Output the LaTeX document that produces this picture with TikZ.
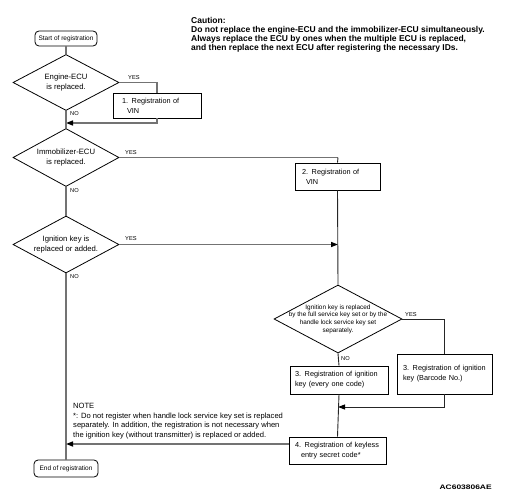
\documentclass[tikz,border=0pt]{standalone}
\usepackage{fontspec}
\setmainfont{Liberation Sans}
\usetikzlibrary{shapes.geometric,arrows.meta}
\begin{document}
\begin{tikzpicture}[x=1pt,y=-1pt,
  term/.style={draw=black,line width=0.8pt,rounded corners=4pt,inner sep=0pt,font=\fontsize{6.5}{7.5}\selectfont},
  proc/.style={draw=black,line width=0.8pt,inner ysep=0pt,align=left,font=\fontsize{7.3}{9.8}\selectfont,
    execute at begin node={\hyphenpenalty=10000\exhyphenpenalty=10000}},
  dec/.style={draw=black,line width=0.8pt,diamond,inner sep=0pt,shape aspect=1.9},
  dtext/.style={align=center,font=\fontsize{7.7}{9.5}\selectfont,inner sep=0pt},
  conn/.style={draw=black!55,line width=1.5pt},
  thinconn/.style={draw=black!85,line width=0.9pt},
  tip/.style={-{Triangle[length=7pt,width=5pt,color=black]}},
  lab/.style={font=\fontsize{5.7}{6.5}\selectfont,inner sep=0pt},
  note/.style={font=\fontsize{7.6}{9.7}\selectfont,align=left,inner sep=0pt,anchor=north west},
  caut/.style={font=\bfseries\fontsize{8.5}{8.9}\selectfont,align=left,inner sep=0pt,anchor=north west}
]
\useasboundingbox (0,0) rectangle (505,500);

% caution
\node[caut] (caution) at (191,17.5) {Caution:\\Do not replace the engine-ECU and the immobilizer-ECU simultaneously.\\Always replace the ECU by ones when the multiple ECU is replaced,\\and then replace the next ECU after registering the necessary IDs.};

% terminals
\node[term,minimum width=62pt,minimum height=15pt] (start) at (66,38.5) {Start of registration};
\node[term,minimum width=64pt,minimum height=17pt] (end) at (66,468.5) {End of registration};

% decisions
\node[dec,minimum width=106pt,minimum height=56pt,
  label={[dtext]center:Engine-ECU\\is replaced.}] (d1) at (66,82.5) {};
\node[dec,minimum width=106pt,minimum height=58pt,
  label={[dtext]center:Immobilizer-ECU\\is replaced.}] (d2) at (66,157.5) {};
\node[dec,minimum width=106pt,minimum height=57pt,
  label={[dtext]center:Ignition key is\\replaced or added.}] (d3) at (66,244.5) {};
\node[dec,minimum width=128pt,minimum height=68pt,
  label={[dtext,font=\fontsize{6.4}{7.6}\selectfont]center:Ignition key is replaced\\by the full service key set or by the\\handle lock service key set\\separately.}] (d4) at (338,319) {};

% processes
\node[proc,minimum height=25pt,text width=70pt,inner xsep=9pt] (b1) at (157,105.5) {1. Registration of\\\hspace*{5pt}VIN};
\node[proc,minimum height=27pt,text width=71pt,inner xsep=7pt] (b2) at (337.5,176.5) {2. Registration of\\\hspace*{4pt}VIN};
\node[proc,minimum height=28pt,text width=88pt,inner xsep=5pt] (b3a) at (339,380) {3. Registration of ignition\\key (every one code)};
\node[proc,minimum height=40pt,text width=83pt,inner xsep=6pt] (b3b) at (444.5,374) {3. Registration of ignition\\key (Barcode No.)};
\node[proc,minimum height=27pt,text width=85pt,inner xsep=6pt] (b4) at (337.5,450.5) {4. Registration of keyless\\\hspace*{6pt}entry secret code*};

% junction coordinates
\coordinate (j1) at (66,123);
\coordinate (j2) at (338,244.5);
\coordinate (j3) at (338,407);
\coordinate (j4) at (66,444);
\coordinate (c2) at (338,157.5);

% connectors
\draw[conn] (start.south) -- (d1.north);
\draw[conn] (d1.east) -| (b1.north);
\draw[conn,tip] (b1.south) |- (j1);
\draw[conn] (d1.south) -- (d2.north);
\draw[conn] (d2.east) -- (c2);
\draw[thinconn] (c2) -- (b2.north);
\draw[conn] (d2.south) -- (d3.north);
\draw[conn,tip] (d3.east) -- (j2);
\draw[thinconn] (b2.south) -- (d4.north);
\draw[conn] (d3.south) -- (end.north);
\draw[thinconn] (d4.east) -| (b3b.north);
\draw[thinconn] (d4.south) -- (b3a.north);
\draw[thinconn,tip] (b3b.south) |- (j3);
\draw[thinconn] (b3a.south) -- (b4.north);
\draw[conn,tip] (b4.west |- j4) -- (j4);

% labels
\node[lab,anchor=south west] (y1) at (128,80) {YES};
\node[lab,anchor=west] (n1) at (70,114) {NO};
\node[lab,anchor=south west] (y2) at (125,155) {YES};
\node[lab,anchor=west] (n2) at (70,191) {NO};
\node[lab,anchor=south west] (y3) at (125,241) {YES};
\node[lab,anchor=west] (n3) at (70,277) {NO};
\node[lab,anchor=south west] (y4) at (405,317) {YES};
\node[lab,anchor=west] (n4) at (341,359) {NO};

% note
\node[note] (notetext) at (73,403) {NOTE\\*: Do not register when handle lock service key set is replaced\\separately. In addition, the registration is not necessary when\\the ignition key (without transmitter) is replaced or added.};

% id
\node[font=\bfseries\fontsize{6.5}{7}\selectfont,inner sep=0pt,anchor=east,transform shape,xscale=1.3] (acid) at (492,487) {AC603806AE};
\end{tikzpicture}
\end{document}
